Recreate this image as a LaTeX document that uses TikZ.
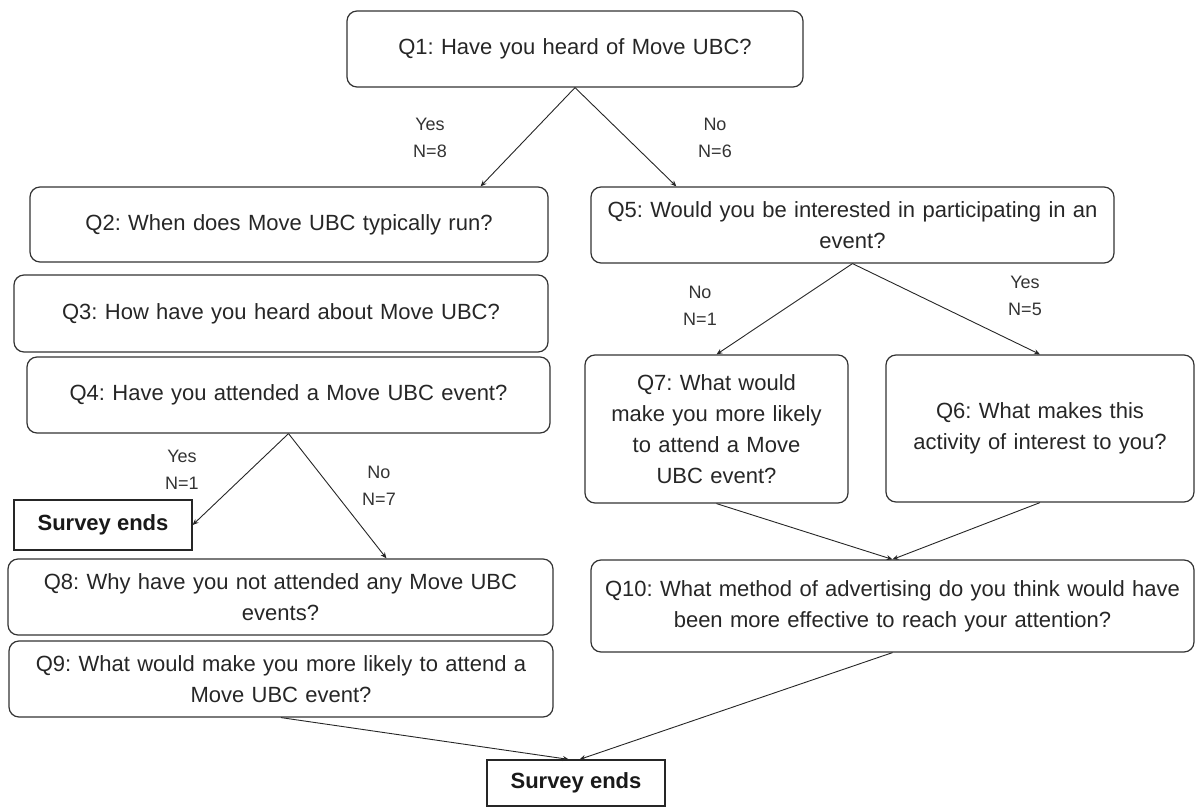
\documentclass[tikz,border=0pt]{standalone}
\usepackage{fontspec}
\setmainfont{Liberation Sans}
\usetikzlibrary{arrows.meta,calc}
\frenchspacing

\tikzset{
  qbox/.style={draw=black!80,line width=1.2pt,rounded corners=10pt,inner sep=0pt,
    align=center,text=black!85,font=\fontsize{22}{31}\selectfont},
  endbox/.style={draw=black!85,line width=1.2pt,inner sep=0pt,minimum width=178pt,
    text=black!90,font=\fontsize{22}{31}\selectfont\bfseries},
  answer/.style={align=center,text=black!80,font=\fontsize{18}{27}\selectfont},
  flow/.style={draw=black!85,line width=0.9pt,-{Stealth[length=6pt,width=5pt]}}
}

\begin{document}
\begin{tikzpicture}[x=1pt,y=-1pt]
      \useasboundingbox (0,0) rectangle (1195,810);

      \node[qbox,text width=456pt,minimum height=76pt] (qone) at (575,49) {Q1: Have you heard of Move UBC?};

      \node[qbox,text width=518pt,minimum height=75pt] (qtwo) at (289,224.5) {Q2: When does Move UBC typically run?};
      \node[qbox,text width=534pt,minimum height=77pt] (qthree) at (281,313.5) {Q3: How have you heard about Move UBC?};
      \node[qbox,text width=523pt,minimum height=76pt] (qfour) at (288.5,395) {Q4: Have you attended a Move UBC event?};
      \node[endbox,minimum height=50pt] (sendA) at (103,525) {Survey ends};
      \node[qbox,text width=545pt,minimum height=76pt] (qeight) at (280.5,597) {Q8: Why have you not attended any Move UBC\\events?};
      \node[qbox,text width=544pt,minimum height=76pt] (qnine) at (281,679) {Q9: What would make you more likely to attend a\\Move UBC event?};

      \node[qbox,text width=523pt,minimum height=76pt] (qfive) at (852.5,225) {Q5: Would you be interested in participating in an\\event?};
      \node[qbox,text width=263pt,minimum height=148pt] (qseven) at (716.5,429) {Q7: What would\\make you more likely\\to attend a Move\\UBC event?};
      \node[qbox,text width=308pt,minimum height=147pt] (qsix) at (1040,428.5) {Q6: What makes this\\activity of interest to you?};
      \node[qbox,text width=603pt,minimum height=92pt] (qten) at (892.5,606) {Q10: What method of advertising do you think would have\\been more effective to reach your attention?};

      \node[endbox,minimum height=46pt] (sendB) at (576,783) {Survey ends};

      \node[answer] (yesA) at (430,138) {Yes\\N=8};
      \node[answer] (noA) at (715,138) {No\\N=6};
      \node[answer] (noB) at (700,306) {No\\N=1};
      \node[answer] (yesB) at (1025,296) {Yes\\N=5};
      \node[answer] (yesC) at (182,470) {Yes\\N=1};
      \node[answer] (noC) at (379,486) {No\\N=7};

      \draw[flow] (qone.south) -- ($(qtwo.north west)!0.869!(qtwo.north east)$);
      \draw[flow] (qone.south) -- ($(qfive.north west)!0.164!(qfive.north east)$);
      \draw[flow] (qfour.south) -- (sendA.east);
      \draw[flow] (qfour.south) -- ($(qeight.north west)!0.694!(qeight.north east)$);
      \draw[flow] (qfive.south) -- (qseven.north);
      \draw[flow] (qfive.south) -- (qsix.north);
      \draw[flow] (qseven.south) -- (qten.north);
      \draw[flow] (qsix.south) -- (qten.north);
      \draw[flow] (qnine.south) -- ($(sendB.north west)!0.46!(sendB.north east)$);
      \draw[flow] (qten.south) -- ($(sendB.north west)!0.52!(sendB.north east)$);
    \end{tikzpicture}
\end{document}
